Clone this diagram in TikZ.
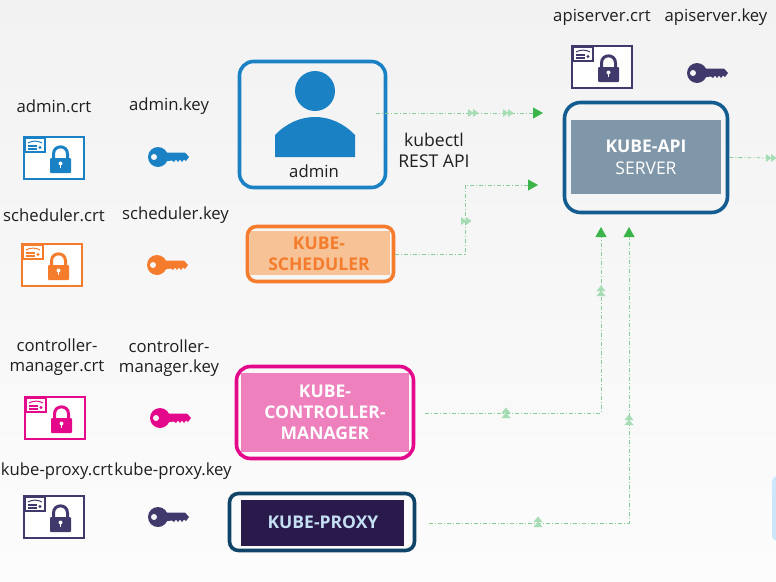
\documentclass[tikz,border=0pt]{standalone}
\usepackage{fontspec}
\setmainfont{Open Sans}
\usetikzlibrary{arrows.meta}
\definecolor{cblue}{HTML}{1A82C4}
\definecolor{corange}{HTML}{F47C2C}
\definecolor{cpink}{HTML}{E4098A}
\definecolor{cnavy}{HTML}{3F3A6B}
\definecolor{capi}{HTML}{125C90}
\definecolor{cproxy}{HTML}{0F4468}
\definecolor{linegreen}{HTML}{86CF9A}
\definecolor{tipgreen}{HTML}{3BB54A}
\definecolor{chevgreen}{HTML}{A6DDB4}
\definecolor{fillorange}{HTML}{F7C296}
\definecolor{fillpink}{HTML}{EE80BD}
\definecolor{fillproxy}{HTML}{2A1A4C}
\definecolor{fillapi}{HTML}{8097A9}
\definecolor{textproxy}{HTML}{C5DFF3}
\definecolor{edgeblue}{HTML}{CDE8FA}
\definecolor{bgtop}{HTML}{F2F2F2}
\definecolor{bgbot}{HTML}{FCFCFC}
\definecolor{keyhole}{HTML}{F5F5F5}
\tikzset{
  x=1pt,y=-1pt,
  lbl/.style={font=\fontsize{16.7}{20.5}\selectfont,align=center,text=black!88,inner sep=0pt},
  boxtext/.style={font=\bfseries\fontsize{17.5}{21}\selectfont,align=center,inner sep=0pt},
  outerbox/.style={draw=#1,line width=3.6pt,inner sep=0pt},
  innerbox/.style={fill=#1,inner sep=0pt,draw=none},
  link/.style={draw=linegreen,line width=0.8pt,dash pattern=on 4pt off 2pt on 1pt off 2pt},
  linktip/.style={link,-{Triangle[length=10pt,width=11pt,color=tipgreen]}},
  pics/certicon/.style={code={
    \node[draw=#1,line width=1.8pt,fill=white,minimum width=60.5pt,minimum height=42.5pt,inner sep=0pt,anchor=north west] (-card) at (0.8,0.8) {};
    \draw[#1,line width=1.2pt,fill=white] (3,3) rectangle (23,17);
    \draw[#1,line width=1pt] (6,8) .. controls (10,5.5) and (16,5.5) .. (20,8);
    \draw[#1,line width=1.2pt] (6,11) -- (15,11) (6,14) -- (15,14);
    \fill[#1] (18,12.5) circle (1.6);
    \fill[#1,rounded corners=1pt] (28,23) rectangle (49,38);
    \draw[#1,line width=3pt] (31.5,23) -- (31.5,19) .. controls (31.5,9.5) and (45.5,9.5) .. (45.5,19) -- (45.5,23);
    \fill[white] (38.5,28.5) circle (2);
    \fill[white] (37.8,29) rectangle (39.2,33);
  }},
  pics/keyicon/.style={code={
    \fill[#1] (10,10) circle (10);
    \fill[#1] (15,5.5) -- (37,5.5) -- (41,10) -- (38,14) -- (36,12.5) -- (34,15) -- (32,12.5) -- (30,15) -- (28,12.5) -- (26,15) -- (24,13.5) -- (15,14.5) -- cycle;
    \fill[keyhole] (6,10) circle (3);
  }},
  pics/chevright/.style={code={
    \fill[chevgreen] (-5,-4) -- (0.5,0) -- (-5,4) -- cycle;
    \fill[chevgreen] (0,-4) -- (5.5,0) -- (0,4) -- cycle;
  }},
  pics/chevup/.style={code={
    \fill[chevgreen] (-4.5,5) -- (0,-0.5) -- (4.5,5) -- cycle;
    \fill[chevgreen] (-4.5,0) -- (0,-5.5) -- (4.5,0) -- cycle;
  }}
}
\begin{document}
\begin{tikzpicture}
\useasboundingbox (0,0) rectangle (776,581);
\begin{scope}[y=1pt]
\fill[top color=bgtop,bottom color=bgbot] (0,0) rectangle (776,-581);
\end{scope}

% light blue partial shape at the right edge
\fill[edgeblue,rounded corners=5pt] (772,476) rectangle (790,541);

% labels
\node[lbl] (l1) at (54,106) {admin.crt};
\node[lbl] (l2) at (169,106.5) {admin.key};
\node[lbl] (l3) at (54,215) {scheduler.crt};
\node[lbl] (l4) at (175.5,215) {scheduler.key};
\node[lbl] (l5) at (57,357) {controller-\\manager.crt};
\node[lbl] (l6) at (169,358) {controller-\\manager.key};
\node[lbl] (l7) at (57,471) {kube-proxy.crt};
\node[lbl] (l8) at (173,471) {kube-proxy.key};
\node[lbl] (l9) at (602,17) {apiserver.crt};
\node[lbl] (l10) at (716,17) {apiserver.key};
\node[lbl,font=\fontsize{17.6}{21}\selectfont] (l11) at (434,150.5) {kubectl\\REST API};

% certificates and keys
\pic (c1) at (22,135) {certicon=cblue};
\pic (c2) at (20,242) {certicon=corange};
\pic (c3) at (23,395) {certicon=cpink};
\pic (c4) at (22,494) {certicon=cnavy};
\pic (c5) at (570,44) {certicon=cnavy};
\pic (k1) at (148,147) {keyicon=cblue};
\pic (k2) at (147,255) {keyicon=corange};
\pic (k3) at (150,408) {keyicon=cpink};
\pic (k4) at (148,507) {keyicon=cnavy};
\pic (k5) at (687,63) {keyicon=cnavy};

% admin
\node[outerbox=cblue,rounded corners=14pt,minimum width=146pt,minimum height=126pt] (admin) at (312.5,124.5) {};
\fill[cblue] (315,91) circle (20);
\fill[cblue] (275,157) -- (275,135) .. controls (298,111) and (332,111) .. (355,135) -- (355,157) -- cycle;
\node[lbl] (adminl) at (314,171) {admin};

% scheduler
\node[innerbox=fillorange,minimum width=140pt,minimum height=44pt] (schedin) at (320,253) {};
\node[outerbox=corange,rounded corners=9pt,minimum width=146pt,minimum height=55pt] (sched) at (320.5,254) {};
\node[boxtext,text=corange] (schedl) at (319,253.5) {KUBE-\\SCHEDULER};

% controller manager
\node[innerbox=fillpink,minimum width=168pt,minimum height=79pt] (ctrlin) at (325,412.5) {};
\node[outerbox=cpink,rounded corners=14pt,minimum width=177pt,minimum height=92pt] (ctrl) at (325,412.5) {};
\node[boxtext,text=white] (ctrll) at (325,412.5) {KUBE-\\CONTROLLER-\\MANAGER};

% proxy
\node[innerbox=fillproxy,minimum width=163pt,minimum height=46pt] (proxyin) at (322.5,523) {};
\node[outerbox=cproxy,rounded corners=9pt,minimum width=185pt,minimum height=57pt] (proxy) at (322,522) {};
\node[boxtext,text=textproxy] (proxyl) at (323,522) {KUBE-PROXY};

% api server
\node[innerbox=fillapi,minimum width=150pt,minimum height=74pt] (apiin) at (646,157) {};
\node[outerbox=capi,rounded corners=16pt,minimum width=163pt,minimum height=110pt] (api) at (646,157.5) {};
\node[boxtext,text=white] (apil) at (646,146) {KUBE-API};
\node[lbl,text=white,font=\fontsize{17.5}{21}\selectfont] (apil2) at (646,168) {SERVER};

% connector ends
\coordinate (adminout) at (376,113);
\coordinate (apiin1) at (543,113);
\coordinate (apiin2) at (538,185);
\coordinate (b1) at (465,254);
\coordinate (b2) at (465,185);
\coordinate (ctrlout) at (425,413);
\coordinate (b3) at (601,413);
\coordinate (apiin3) at (601,227);
\coordinate (proxyout) at (429,523);
\coordinate (b4) at (629,523);
\coordinate (apiin4) at (629,227);
\coordinate (edge) at (776,158);

\draw[linktip] (adminout) -- (apiin1);
\draw[linktip] (sched.east) -- (b1) -- (b2) -- (apiin2);
\draw[linktip] (ctrlout) -- (b3) -- (apiin3);
\draw[linktip] (proxyout) -- (b4) -- (apiin4);
\draw[link] (api.east) -- (edge);

\pic at (473,113) {chevright};
\pic at (508,113) {chevright};
\pic at (466,221) {chevright};
\pic at (771,158) {chevright};
\pic at (601,291) {chevup};
\pic at (506,413) {chevup};
\pic at (629,420) {chevup};
\pic at (538,522) {chevup};
\end{tikzpicture}
\end{document}
